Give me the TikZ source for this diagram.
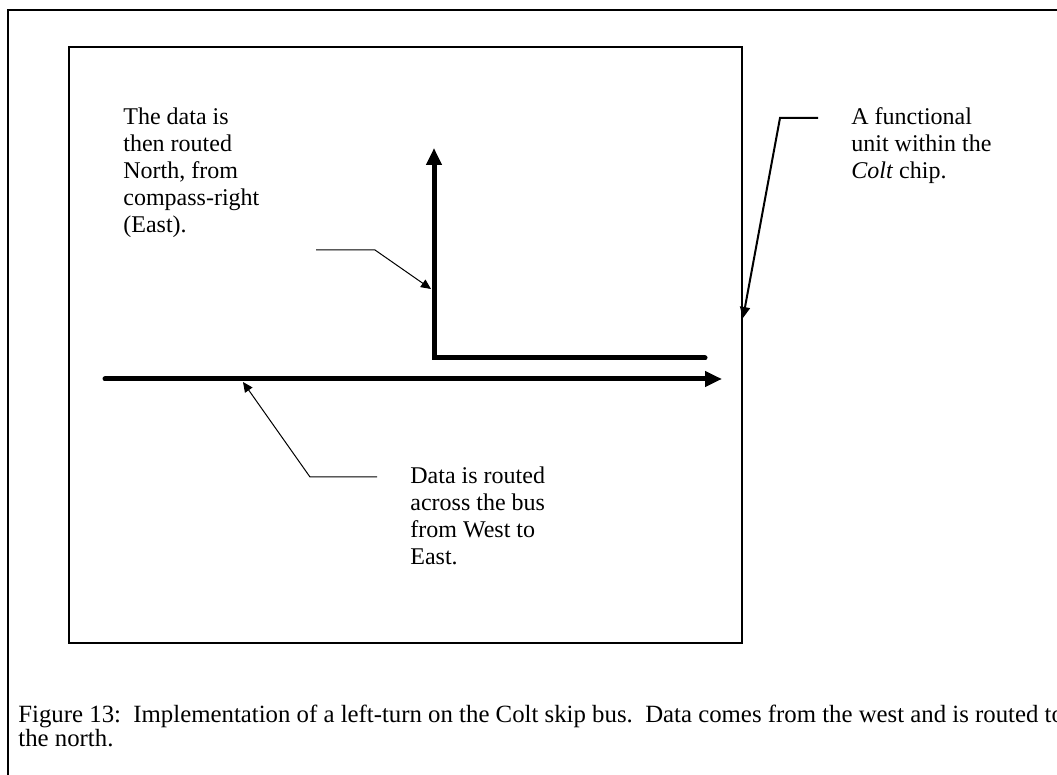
\documentclass[tikz,border=0pt]{standalone}
\usepackage{fontspec}
\setmainfont{Liberation Serif}
\usetikzlibrary{arrows.meta}
\begin{document}
\begin{tikzpicture}[x=0.5pt,y=-0.5pt,
  frame/.style={line width=1pt},
  bus/.style={line width=2.5pt, line cap=round, line join=miter,
    -{Triangle[length=8.5pt,width=7.5pt]}},
  callout/.style={line width=0.5pt, -{Triangle[length=5pt,width=4.5pt]}},
  heavycallout/.style={line width=1pt, -{Triangle[length=5.5pt,width=5pt]}},
  label/.style={inner sep=0pt, anchor=north west, align=left,
    font=\fontsize{12}{13.5}\selectfont},
  caption/.style={inner sep=0pt, anchor=north west, align=left,
    font=\fontsize{12.4}{12}\selectfont},
]
\useasboundingbox (0,0) rectangle (1057,775);
\clip (0,0) rectangle (1057,775);

% page frame (runs off the right and bottom edges)
\coordinate (frameNE) at (1080,10);
\coordinate (frameNW) at (7.5,10);
\coordinate (frameSW) at (7.5,800);
\draw[frame] (frameNE) -- (frameNW) -- (frameSW);

% the functional unit
\coordinate (unitNW) at (69,47);
\coordinate (unitSE) at (742,643);
\draw[frame] (unitNW) rectangle (unitSE);

% west-to-east bus
\coordinate (busW) at (105,379);
\coordinate (busE) at (722,379);
\draw[bus] (busW) -- (busE);

% left turn towards the north
\coordinate (turnE) at (705,358);
\coordinate (turn) at (434,358);
\coordinate (turnN) at (434,148);
\draw[bus] (turnE) -- (turn) -- (turnN);

% labels
\node[label] (lblNorth) at (123,107) {The data is\\then routed\\North, from\\compass-right\\(East).};
\node[label] (lblUnit) at (851,107) {A functional\\unit within the\\\textit{Colt} chip.};
\node[label] (lblBus) at (410,466) {Data is routed\\across the bus\\from West to\\East.};

% callouts
\coordinate (c1a) at (316,250);
\coordinate (c1b) at (375,250);
\coordinate (c1tip) at (431,289);
\draw[callout] (c1a) -- (c1b) -- (c1tip);

\coordinate (c2a) at (818,118);
\coordinate (c2b) at (780,118);
\coordinate (c2tip) at (743,318);
\draw[heavycallout] (c2a) -- (c2b) -- (c2tip);

\coordinate (c3a) at (377,477);
\coordinate (c3b) at (310,477);
\coordinate (c3tip) at (243,382);
\draw[callout] (c3a) -- (c3b) -- (c3tip);

% caption
\node[caption] (cap) at (18,705) {Figure 13:\ \ Implementation of a left-turn on the Colt skip bus.\ \ Data comes from the west and is routed to\\the north.};
\end{tikzpicture}
\end{document}
